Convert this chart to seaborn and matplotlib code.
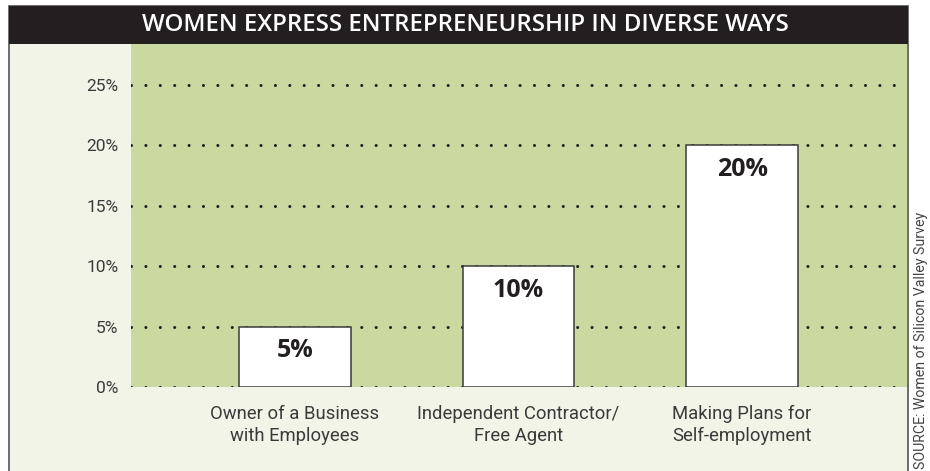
import matplotlib
matplotlib.use("Agg")
import matplotlib.pyplot as plt
from matplotlib.patches import Rectangle
import pandas as pd
import seaborn as sns

# data
categories = ["Owner of a Business\nwith Employees",
              "Independent Contractor/\nFree Agent",
              "Making Plans for\nSelf-employment"]
shares = [5, 10, 20]
y_ticks = [0, 5, 10, 15, 20, 25]
title = "WOMEN EXPRESS ENTREPRENEURSHIP IN DIVERSE WAYS"
source = "SOURCE: Women of Silicon Valley Survey"

GREEN = "#c9d9a0"
CREAM = "#f3f4e8"
INK = "#231f20"
BODY = ["Roboto", "DejaVu Sans"]
HEAD = ["Open Sans", "DejaVu Sans"]

sns.set_style("white")
plt.rcParams["font.family"] = BODY

df = pd.DataFrame({"category": categories, "share": shares})

W, H = 930, 471
fig = plt.figure(figsize=(W / 100, H / 100), dpi=100, facecolor="white")

# cream panel, border and black title bar
fig.add_artist(Rectangle((8.5 / W, -0.02), 899 / W, 1 - 6 / H + 0.02,
                         transform=fig.transFigure, facecolor=CREAM,
                         edgecolor="#555555", linewidth=1.2, zorder=0))
fig.add_artist(Rectangle((8.5 / W, 1 - 44 / H), 899 / W, 38 / H,
                         transform=fig.transFigure, facecolor=INK,
                         edgecolor="none", zorder=1))
fig.text(465 / W, 1 - 25 / H, title, color="white", fontsize=17.3,
         fontweight="semibold", family=HEAD, ha="center", va="center", zorder=2)

ax = fig.add_axes([131 / W, 1 - 387 / H, 776 / W, 343 / H])
ax.set_facecolor(GREEN)

sns.barplot(data=df, x="category", y="share", color="white", saturation=1,
            edgecolor="#3a3a3a", linewidth=1.1, width=0.5, ax=ax, zorder=3)

for i, v in enumerate(shares):
    ax.annotate(f"{v}%", xy=(i, v), xytext=(0, -17.5), textcoords="offset points",
                ha="center", va="center", fontsize=18, fontweight="bold",
                color=INK, family=HEAD, zorder=4)

ax.set_xlim(-0.734, 2.738)
ax.set_ylim(0, 28.4)
ax.set_yticks(y_ticks)
ax.set_yticklabels([f"{t}%" for t in y_ticks])
ax.yaxis.grid(True, linestyle=(0, (0.01, 4.7)), linewidth=2.2, color=INK,
              dash_capstyle="round")
ax.xaxis.grid(False)
ax.set_axisbelow(True)
ax.tick_params(axis="y", length=0, pad=9, labelsize=12.5, labelcolor="#3a3a3a")
ax.tick_params(axis="x", length=0, pad=13, labelsize=13.3, labelcolor="#3a3a3a")
for lbl in ax.get_xticklabels():
    lbl.set_linespacing(1.3)
ax.set_xlabel("")
ax.set_ylabel("")
for s in ax.spines.values():
    s.set_visible(False)

fig.text(921 / W, 2 / H, source, rotation=90, ha="center", va="bottom",
         fontsize=10.2, color="#444444")

fig.savefig("out.png", dpi=100)
plt.close(fig)
